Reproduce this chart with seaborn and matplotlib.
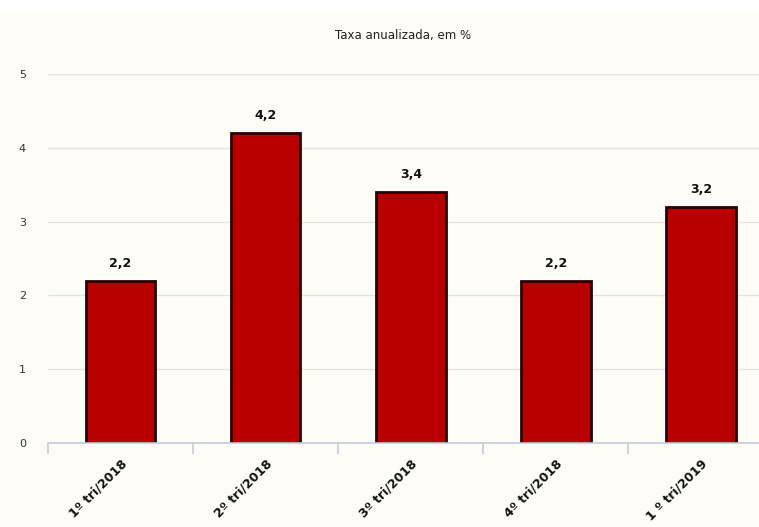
import matplotlib
matplotlib.use("Agg")
import matplotlib.pyplot as plt
import seaborn as sns
import pandas as pd
from matplotlib.patches import Rectangle

# dados: taxa anualizada do PIB (%)
trimestres = ["1º tri/2018", "2º tri/2018", "3º tri/2018", "4º tri/2018", "1 º tri/2019"]
taxas = [2.2, 4.2, 3.4, 2.2, 3.2]
rotulos = ["2,2", "4,2", "3,4", "2,2", "3,2"]
y_ticks = [0, 1, 2, 3, 4, 5]

df = pd.DataFrame({"trimestre": trimestres, "taxa": taxas})

sns.set_style("white")
plt.rcParams["font.family"] = ["DejaVu Sans"]

bg = "#fdfcf7"
fig = plt.figure(figsize=(7.59, 5.27), dpi=100, facecolor=bg)
# faixa branca no topo
fig.patches.append(Rectangle((0, 1 - 12 / 527), 1, 12 / 527, transform=fig.transFigure,
                             facecolor="white", edgecolor="none", zorder=0))
ax = fig.add_axes([48 / 759, 1 - 443 / 527, 1 - 48 / 759, (443 - 74) / 527])
ax.set_facecolor(bg)

sns.barplot(data=df, x="trimestre", y="taxa", color="#b80000", width=0.48,
            edgecolor="#2a0000", linewidth=2, saturation=1, ax=ax, zorder=3)

ax.set_ylim(0, 5)
ax.set_xlim(-0.5, 4.4)
ax.set_yticks(y_ticks)
ax.set_yticklabels([str(t) for t in y_ticks], fontsize=8, color="#333333")
ax.yaxis.grid(True, color="#e3e3e3", linewidth=1)
ax.set_axisbelow(True)

for s in ["top", "right", "left"]:
    ax.spines[s].set_visible(False)
ax.spines["bottom"].set_color("#c5ccd8")
ax.spines["bottom"].set_linewidth(1.2)
ax.spines["bottom"].set_zorder(4)

ax.tick_params(axis="y", length=0, pad=16)
ax.set_xticks(range(len(trimestres)))
ax.set_xticklabels(trimestres, rotation=45, ha="right", rotation_mode="anchor",
                   fontsize=9, fontweight="bold", color="#111111")
ax.tick_params(axis="x", which="major", length=0, pad=10)
ax.set_xticks([i - 0.5 for i in range(len(trimestres))], minor=True)
ax.tick_params(axis="x", which="minor", bottom=True, length=8, color="#c5ccd8", width=1.2)

ax.set_xlabel("")
ax.set_ylabel("")

for i, (v, lab) in enumerate(zip(taxas, rotulos)):
    ax.annotate(lab, (i, v), xytext=(0, 8), textcoords="offset points",
                ha="center", va="bottom", fontsize=9, fontweight="bold", color="#111111")

fig.text(0.5 + 24 / 759, 1 - 35 / 527, "Taxa anualizada, em %", ha="center", va="center",
         fontsize=8.5, color="#222222")

fig.savefig("out.png", dpi=100, facecolor=bg)
